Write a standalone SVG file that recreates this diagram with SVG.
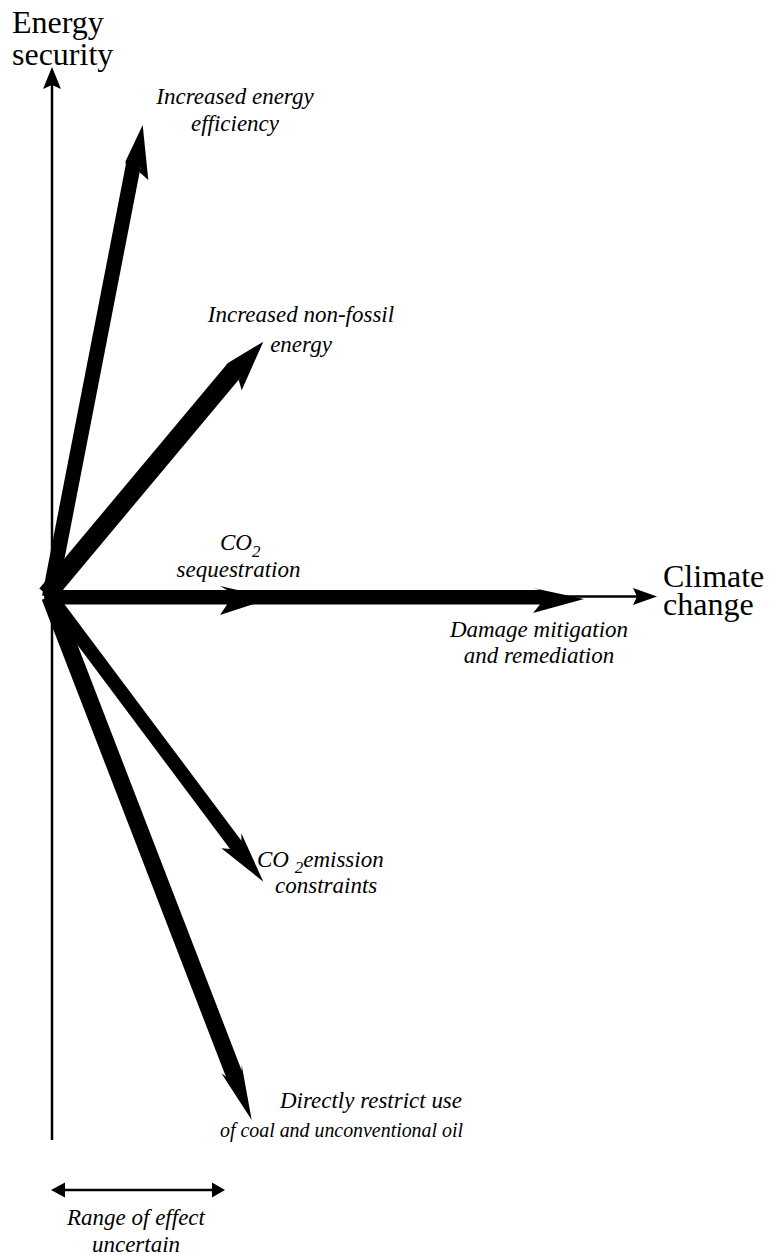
<svg xmlns="http://www.w3.org/2000/svg" width="775" height="1255" viewBox="0 0 775 1255">
<style>
.ax{font-family:"Liberation Serif","Times New Roman",serif;font-size:32px;fill:#000}
.lb{font-family:"Liberation Serif","Times New Roman",serif;font-style:italic;font-size:23px;fill:#000}
.sub{font-size:17px}
.thin{stroke:#000;stroke-width:2.5;fill:none}
.shaft line{stroke:#000;fill:none}
.hd{fill:#000}
</style>
<rect width="775" height="1255" fill="#fff"/>
<g id="axes">
  <line class="thin" x1="52" y1="1140" x2="52" y2="84"/>
  <polygon class="hd" points="52,67 61,89 52,85 43,89"/>
  <line class="thin" x1="50" y1="596.5" x2="640" y2="596.5"/>
  <polygon class="hd" points="657,596.5 633,588 637,596.5 633,605"/>
</g>
<g id="connectors" class="shaft">
  <g id="arrow-efficiency" transform="translate(142.7,125) rotate(-79)">
    <line x1="-481" y1="-1.5" x2="-40" y2="-1.5" stroke-width="15"/>
    <polygon class="hd" points="0,0 -39,-10 -42,-9 -42,6 -47,6 -53,16"/>
  </g>
  <g id="arrow-nonfossil" transform="translate(263.3,341.7) rotate(-50.1)">
    <line x1="-333" y1="-4" x2="-40" y2="-4" stroke-width="19"/>
    <polygon class="hd" points="0,0 -39,-13.5 -42,-13.5 -42,5.5 -45,5.5 -51,14.5"/>
  </g>
  <g id="arrow-horizontal">
    <line x1="50" y1="597.25" x2="540" y2="597.25" stroke-width="14.5"/>
    <polygon class="hd" points="272,598 220,586 227,590 227,604.5 220,615"/>
    <polygon class="hd" points="584,599 533,588 540,590 540,604.5 533,613"/>
  </g>
  <g id="arrow-emission" transform="translate(263.3,881.7) rotate(53.2)">
    <line x1="-356" y1="0" x2="-44" y2="0" stroke-width="14"/>
    <polygon class="hd" points="0,0 -52,-11.5 -46,-7 -46,7 -52,13.5"/>
  </g>
  <g id="arrow-restrict" transform="translate(251.7,1120) rotate(68.9)">
    <line x1="-561" y1="0" x2="-48" y2="0" stroke-width="17"/>
    <polygon class="hd" points="0,0 -55,-10.5 -50,-8.5 -50,8.5 -54.5,11.5"/>
  </g>
  <circle class="hd" cx="51" cy="597" r="7"/>
  <g id="range-arrow">
    <line class="thin" x1="60" y1="1190" x2="217" y2="1190"/>
    <polygon class="hd" points="51,1190 65,1182.5 65,1197.5"/>
    <polygon class="hd" points="225,1190 212,1182.5 212,1197.5"/>
  </g>
</g>
<g id="axis-y-label"><text class="ax" x="12" y="33">Energy</text><text class="ax" x="12" y="65">security</text></g>
<g id="axis-x-label"><text class="ax" x="663" y="587">Climate</text><text class="ax" x="663" y="615">change</text></g>
<g id="label-efficiency"><text class="lb" x="235" y="104" text-anchor="middle">Increased energy</text><text class="lb" x="235" y="131" text-anchor="middle">efficiency</text></g>
<g id="label-nonfossil"><text class="lb" x="301" y="322" text-anchor="middle">Increased non-fossil</text><text class="lb" x="301" y="352" text-anchor="middle">energy</text></g>
<g id="label-sequestration"><text class="lb" x="220" y="550">CO<tspan class="sub" dy="7">2</tspan></text><text class="lb" x="238.5" y="577" text-anchor="middle">sequestration</text></g>
<g id="label-damage"><text class="lb" x="539" y="637" text-anchor="middle">Damage mitigation</text><text class="lb" x="539" y="663" text-anchor="middle">and remediation</text></g>
<g id="label-emission"><text class="lb" x="257" y="867">CO <tspan class="sub" dy="6">2</tspan><tspan dy="-6">emission</tspan></text><text class="lb" x="275" y="893">constraints</text></g>
<g id="label-restrict"><text class="lb" x="280" y="1108" textLength="182" lengthAdjust="spacingAndGlyphs">Directly restrict use</text><text class="lb" x="220" y="1137" style="font-size:21.5px" textLength="243" lengthAdjust="spacingAndGlyphs">of coal and unconventional oil</text></g>
<g id="label-range"><text class="lb" x="136" y="1225" text-anchor="middle">Range of effect</text><text class="lb" x="136" y="1252" text-anchor="middle">uncertain</text></g>
</svg>
